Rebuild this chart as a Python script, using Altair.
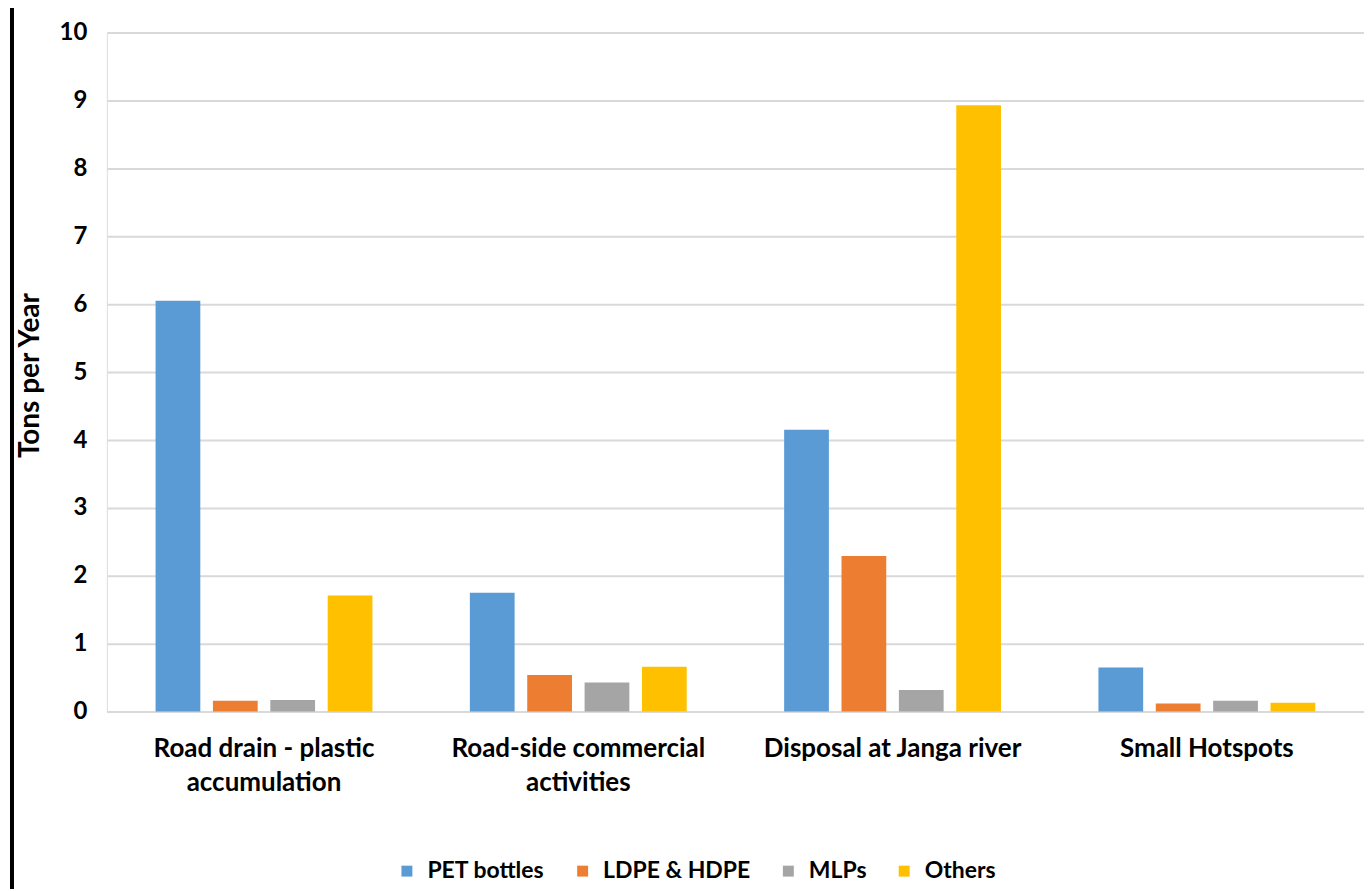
import altair as alt
import pandas as pd

categories = ["Road drain - plastic accumulation", "Road-side commercial activities",
              "Disposal at Janga river", "Small Hotspots"]
category_lines = [["Road drain - plastic", "accumulation"], ["Road-side commercial", "activities"],
                  ["Disposal at Janga river"], ["Small Hotspots"]]
series = ["PET bottles", "LDPE & HDPE", "MLPs", "Others"]
colors = ["#5B9BD5", "#ED7D31", "#A5A5A5", "#FFC000"]
pet = [6.05, 1.75, 4.15, 0.65]
ldpe = [0.16, 0.54, 2.29, 0.12]
mlps = [0.17, 0.43, 0.32, 0.16]
others = [1.71, 0.66, 8.93, 0.13]

rows = []
for i, c in enumerate(categories):
    for s, vals in zip(series, [pet, ldpe, mlps, others]):
        rows.append({"category": c, "series": s, "value": vals[i]})
df = pd.DataFrame(rows)

label_expr = ""
for c, lines in zip(categories, category_lines):
    arr = "[" + ", ".join("'" + l + "'" for l in lines) + "]"
    label_expr += f"datum.value == '{c}' ? {arr} : "
label_expr += "datum.value"

FONT = "Lato"

bars = alt.Chart(df).mark_bar().encode(
    x=alt.X("category:N", sort=categories, title=None,
            scale=alt.Scale(paddingInner=0.31, paddingOuter=0.155),
            axis=alt.Axis(labelExpr=label_expr, labelAngle=0, labelFontSize=26, labelFont=FONT,
                          labelFontWeight="bold", labelColor="#000000", labelPadding=24,
                          labelLineHeight=34, labelLimit=0, ticks=False, domain=True,
                          domainColor="#d9d9d9", domainWidth=2, grid=False)),
    xOffset=alt.XOffset("series:N", sort=series, scale=alt.Scale(paddingInner=0.22)),
    y=alt.Y("value:Q", title="Tons per Year",
            scale=alt.Scale(domain=[0, 10], nice=False),
            axis=alt.Axis(values=list(range(0, 11)), labelFontSize=24, labelFont=FONT,
                          labelFontWeight="bold", labelColor="#000000", labelPadding=20,
                          ticks=False, domain=False, gridColor="#d9d9d9", gridWidth=2,
                          titleFontSize=28, titleFont=FONT, titleFontWeight="bold",
                          titleColor="#000000", titleX=-62, titleY=343, titleAngle=-90,
                          titleAlign="center", titleBaseline="bottom")),
    color=alt.Color("series:N", sort=series, title=None,
                    scale=alt.Scale(domain=series, range=colors),
                    legend=alt.Legend(orient="none", direction="horizontal", legendX=289,
                                      legendY=828, symbolType="square", symbolSize=120,
                                      symbolStrokeWidth=0, labelFontSize=23, labelFont=FONT,
                                      labelFontWeight="bold", labelColor="#000000",
                                      columnPadding=26, labelOffset=9, labelLimit=0)),
)

border = alt.Chart(pd.DataFrame({"k": [0]})).mark_rule(color="#000000", strokeWidth=4).encode(
    x=alt.value(-95), y=alt.value(-40), y2=alt.value(900))
topline = alt.Chart(pd.DataFrame({"k": [0]})).mark_rule(color="#e0e0e0", strokeWidth=2).encode(
    x=alt.value(-93), x2=alt.value(1270), y=alt.value(-30))

chart = alt.layer(bars, border, topline).properties(
    width=1259, height=680,
    autosize=alt.AutoSizeParams(type="none"),
    padding={"left": 99, "top": 24, "right": 0, "bottom": 177},
).configure_view(stroke=None).configure(background="#ffffff")

chart.save("out.html", embed_options={"renderer": "svg", "actions": False})
